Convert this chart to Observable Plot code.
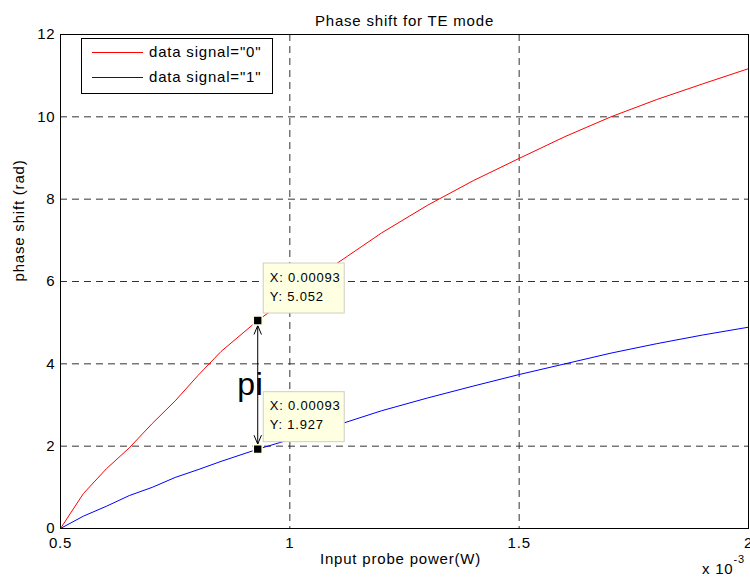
<!DOCTYPE html>
<html>
<head>
<meta charset="utf-8">
<script src="https://cdn.jsdelivr.net/npm/d3@7"></script>
<script src="https://cdn.jsdelivr.net/npm/@observablehq/plot@0.6"></script>
<style>
  html, body { margin: 0; padding: 0; background: white; }
  #chart { width: 750px; height: 583px; }
</style>
</head>
<body>
<div id="chart"></div>
<script>
// ---- data ----
const powerW = [0.0005, 0.00055, 0.0006, 0.00065, 0.0007, 0.00075, 0.0008, 0.00085, 0.00093, 0.001,
                0.0011, 0.0012, 0.0013, 0.0014, 0.0015, 0.0016, 0.0017, 0.0018, 0.0019, 0.002];
const phase0 = [0, 0.85, 1.45, 1.96, 2.55, 3.1, 3.72, 4.3, 5.052, 5.62,
                6.42, 7.18, 7.85, 8.45, 8.99, 9.52, 10.0, 10.42, 10.8, 11.17];
const phase1 = [0, 0.3, 0.54, 0.8, 1.0, 1.24, 1.43, 1.63, 1.927, 2.16,
                2.5, 2.86, 3.17, 3.46, 3.74, 4.0, 4.26, 4.49, 4.7, 4.89];
const seriesNames = ['data signal="0"', 'data signal="1"'];
const seriesColors = ["#ff0000", "#0000ff"];
const xTicks = [0.0005, 0.001, 0.0015, 0.002];
const yTicks = [0, 2, 4, 6, 8, 10, 12];
const tipX = [0.00093, 0.00093];
const tipY = [5.052, 1.927];
const titleText = "Phase shift for TE mode";
const xLabel = "Input probe power(W)";
const yLabel = "phase shift (rad)";
const diffLabel = "pi";

const rows = [];
powerW.forEach((p, i) => {
  rows.push({x: p, y: phase0[i], s: seriesNames[0]});
  rows.push({x: p, y: phase1[i], s: seriesNames[1]});
});
const tips = tipX.map((x, i) => ({x, y: tipY[i]}));
const mid = {x: tipX[0], y: (tipY[0] + tipY[1]) / 2};

const font = "'Liberation Sans', Arial, Helvetica, sans-serif";

const plot = Plot.plot({
  width: 750,
  height: 583,
  marginLeft: 60,
  marginRight: 2,
  marginTop: 34,
  marginBottom: 55,
  style: {fontFamily: font, fontSize: "15px", color: "black", background: "white", letterSpacing: "0.8px"},
  x: {domain: [0.0005, 0.002], ticks: 4, tickFormat: d => d3.format("~g")(+(d * 1000).toFixed(6)), tickSize: 0, tickPadding: 9, label: null},
  y: {domain: [0, 12], ticks: 6, tickSize: 0, tickPadding: 5, label: null},
  color: {domain: seriesNames, range: seriesColors},
  marks: [
    Plot.ruleX(xTicks.slice(1, -1), {stroke: "#333", strokeDasharray: "7,5", strokeWidth: 1}),
    Plot.ruleY(yTicks.slice(1, -1), {stroke: "#333", strokeDasharray: "7,5", strokeWidth: 1}),
    Plot.line(rows, {x: "x", y: "y", z: "s", stroke: "s", strokeWidth: 1}),
    Plot.frame({stroke: "black", strokeWidth: 1}),
    // data tip boxes
    Plot.rect(tips, {x1: "x", x2: "x", y1: "y", y2: "y", insetLeft: 6, insetRight: -87, insetTop: -57, insetBottom: 7,
                     fill: "#ffffe1", stroke: "#cfcfc4", strokeWidth: 1}),
    Plot.text(tips, {x: "x", y: "y", text: d => "X: " + d.x, dx: 12, dy: -43, textAnchor: "start", fontSize: 13}),
    Plot.text(tips, {x: "x", y: "y", text: d => "Y: " + d.y, dx: 12, dy: -24, textAnchor: "start", fontSize: 13}),
    // double arrow between the two tips
    Plot.arrow([0, 1], {x1: () => mid.x, y1: () => mid.y, x2: i => tips[i].x, y2: i => tips[i].y,
                        insetEnd: 5, headLength: 14, headAngle: 45, stroke: "black", strokeWidth: 1}),
    Plot.dot(tips, {x: "x", y: "y", symbol: "square", r: 5, fill: "black", stroke: "#ffffe1", strokeWidth: 1.5}),
    Plot.text([mid], {x: "x", y: "y", text: () => diffLabel, textAnchor: "end", dx: 6, fontSize: 32}),
    // title and axis labels
    Plot.text([titleText], {frameAnchor: "top", text: d => d, dy: -19}),
    Plot.text([xLabel], {frameAnchor: "bottom", text: d => d, dx: -4, dy: 35}),
    Plot.text([yLabel], {frameAnchor: "left", text: d => d, dx: -41, rotate: -90}),
    Plot.text(["x 10"], {frameAnchor: "bottom-right", text: d => d, textAnchor: "end", dx: -15, dy: 45}),
    Plot.text(["-3"], {frameAnchor: "bottom-right", text: d => d, textAnchor: "start", dx: -15, dy: 34, fontSize: 11})
  ]
});

// legend (layout only)
const svg = d3.select(plot);
const lg = svg.append("g").attr("class", "legend").attr("text-anchor", "start");
lg.append("rect").attr("x", 81.5).attr("y", 38.5).attr("width", 191).attr("height", 55)
  .attr("fill", "white").attr("stroke", "black").attr("stroke-width", 1);
seriesNames.forEach((name, i) => {
  const yy = 52.5 + i * 25;
  lg.append("line").attr("x1", 92).attr("x2", 143).attr("y1", yy).attr("y2", yy)
    .attr("stroke", seriesColors[i]).attr("stroke-width", 1);
  lg.append("text").attr("x", 149).attr("y", yy).attr("dy", "0.32em")
    .attr("text-anchor", "start").attr("fill", "black").attr("font-size", 15).text(name);
});

document.getElementById("chart").appendChild(plot);
</script>
</body>
</html>
